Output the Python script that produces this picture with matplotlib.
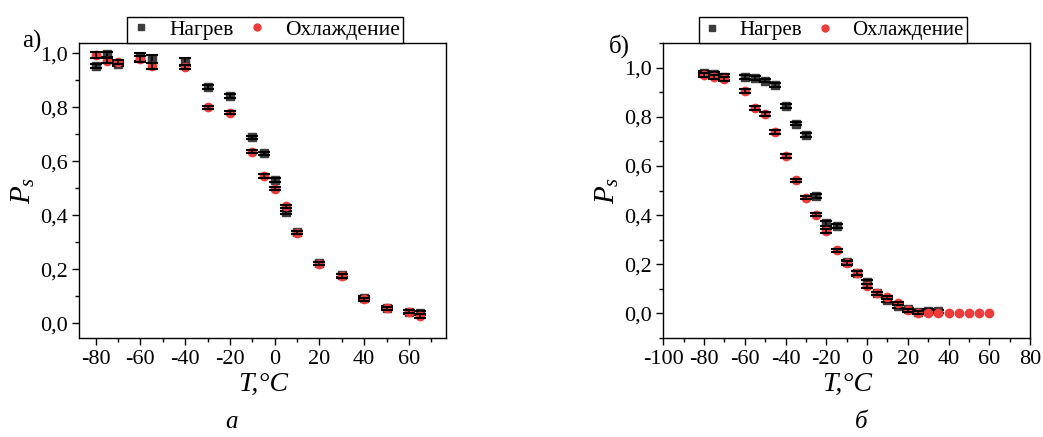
import matplotlib
matplotlib.use('Agg')
import matplotlib.pyplot as plt
from matplotlib.ticker import MultipleLocator, FuncFormatter
from matplotlib.lines import Line2D

plt.rcParams['font.family'] = ['Liberation Serif', 'DejaVu Serif']
plt.rcParams['mathtext.fontset'] = 'custom'
plt.rcParams['mathtext.it'] = 'Liberation Serif:italic'
plt.rcParams['mathtext.rm'] = 'Liberation Serif'
plt.rcParams['axes.unicode_minus'] = False

# panel a
t_heat_a = [-80, -75, -70, -60, -55, -40, -30, -20, -10, -5, 0, 5, 10, 20, 30, 40, 50, 60, 65]
p_heat_a = [0.954, 0.996, 0.960, 0.987, 0.979, 0.967, 0.875, 0.841, 0.689, 0.630, 0.531,
            0.411, 0.338, 0.223, 0.178, 0.095, 0.058, 0.042, 0.038]
e_heat_a = [0.008, 0.01, 0.008, 0.015, 0.015, 0.015, 0.008, 0.008, 0.006, 0.006, 0.006,
            0.006, 0.006, 0.006, 0.006, 0.006, 0.006, 0.006, 0.008]
t_cool_a = [-80, -75, -70, -60, -55, -40, -30, -20, -10, -5, 0, 5, 10, 20, 30, 40, 50, 60, 65]
p_cool_a = [0.994, 0.973, 0.967, 0.979, 0.953, 0.950, 0.800, 0.780, 0.636, 0.546, 0.499,
            0.434, 0.336, 0.221, 0.176, 0.090, 0.056, 0.043, 0.027]
e_cool_a = [0.01, 0.01, 0.008, 0.01, 0.01, 0.008, 0.006, 0.006, 0.006, 0.006, 0.006,
            0.006, 0.006, 0.006, 0.006, 0.006, 0.006, 0.006, 0.008]

# panel b
t_heat_b = [-80, -75, -70, -60, -55, -50, -45, -40, -35, -30, -25, -20, -15, -10, -5,
            0, 5, 10, 15, 20, 25, 30, 35]
p_heat_b = [0.977, 0.974, 0.963, 0.963, 0.956, 0.946, 0.928, 0.844, 0.772, 0.726, 0.478,
            0.366, 0.354, 0.210, 0.163, 0.128, 0.083, 0.055, 0.031, 0.017, 0.007, 0.011, 0.008]
e_heat_b = [0.008, 0.008, 0.012, 0.008, 0.008, 0.006, 0.008, 0.008, 0.006, 0.008, 0.008,
            0.012, 0.008, 0.008, 0.01, 0.01, 0.006, 0.01, 0.01, 0.006, 0.006, 0.006, 0.006]
t_cool_b = [-80, -75, -70, -60, -55, -50, -45, -40, -35, -30, -25, -20, -15, -10, -5,
            0, 5, 10, 15, 20, 25, 30, 35, 40, 45, 50, 55, 60]
p_cool_b = [0.969, 0.963, 0.952, 0.905, 0.835, 0.810, 0.740, 0.641, 0.542, 0.471, 0.402,
            0.337, 0.257, 0.207, 0.163, 0.112, 0.083, 0.066, 0.042, 0.013, 0.002, 0.0, 0.0,
            0.0, 0.0, 0.0, 0.0, 0.0]
e_cool_b = [0.008, 0.008, 0.008, 0.008, 0.008, 0.008, 0.008, 0.008, 0.006, 0.006, 0.006,
            0.008, 0.006, 0.008, 0.008, 0.008, 0.006, 0.006, 0.006, 0.006, 0.006, 0.0, 0.0,
            0.0, 0.0, 0.0, 0.0, 0.0]

HEAT_COLOR = '#3c3c3c'
COOL_COLOR = '#ee3b3b'


def comma_fmt(v, pos):
    return ('%.1f' % v).replace('.', ',')


def draw_panel(ax, th, ph, eh, tc, pc, ec, xlim, ylim, xmajor):
    ax.plot(th, ph, 's', color=HEAT_COLOR, ms=6, zorder=2)
    ax.errorbar(th, ph, yerr=eh, fmt='none', ecolor='black', elinewidth=1.2,
                capsize=4.5, capthick=1.5, zorder=3)
    ax.plot(tc, pc, 'o', color=COOL_COLOR, ms=6, zorder=4)
    errs_t = [t for t, e in zip(tc, ec) if e > 0]
    errs_p = [p for p, e in zip(pc, ec) if e > 0]
    errs_e = [e for e in ec if e > 0]
    ax.errorbar(errs_t, errs_p, yerr=errs_e, fmt='none', ecolor='black', elinewidth=1.2,
                capsize=4.5, capthick=1.5, zorder=5)
    ax.set_xlim(*xlim)
    ax.set_ylim(*ylim)
    ax.xaxis.set_major_locator(MultipleLocator(xmajor))
    ax.xaxis.set_minor_locator(MultipleLocator(xmajor / 2))
    ax.yaxis.set_major_locator(MultipleLocator(0.2))
    ax.yaxis.set_minor_locator(MultipleLocator(0.1))
    ax.yaxis.set_major_formatter(FuncFormatter(comma_fmt))
    ax.tick_params(which='major', direction='out', length=5, width=1, labelsize=16,
                   top=False, right=False)
    ax.tick_params(which='minor', direction='out', length=3, width=1, top=False, right=False)
    for s in ax.spines.values():
        s.set_linewidth(1)
    ax.set_xlabel('T,°C', fontsize=20, fontstyle='italic', labelpad=2)
    ax.set_ylabel(r'$P_s$', fontsize=21, labelpad=2)
    handles = [
        Line2D([], [], ls='none', marker='s', color=HEAT_COLOR, ms=5),
        Line2D([], [], ls='none', marker='o', color=COOL_COLOR, ms=5),
    ]
    return handles


fig = plt.figure(figsize=(10.43, 4.37), dpi=100)
ax1 = fig.add_axes([0.076, 0.2265, 0.352, 0.675])
ax2 = fig.add_axes([0.636, 0.2265, 0.3516, 0.675])

h1 = draw_panel(ax1, t_heat_a, p_heat_a, e_heat_a, t_cool_a, p_cool_a, e_cool_a,
                (-87.3, 76.7), (-0.054, 1.038), 20)
h2 = draw_panel(ax2, t_heat_b, p_heat_b, e_heat_b, t_cool_b, p_cool_b, e_cool_b,
                (-100, 80), (-0.1, 1.1), 20)

for ax, h, x0, fs in [(ax1, h1, 0.13, 15.5), (ax2, h2, 0.097, 15)]:
    leg = ax.legend(h, ['Нагрев', 'Охлаждение'], loc='lower left', bbox_to_anchor=(x0, 1.0),
                    borderaxespad=0, ncol=2, fontsize=fs, frameon=True, fancybox=False,
                    framealpha=1, edgecolor='black', borderpad=0.15, handlelength=1.0,
                    handletextpad=0.8, columnspacing=0.6)
    leg.get_frame().set_linewidth(1)

fig.text(0.021, 0.89, 'а)', fontsize=18)
fig.text(0.584, 0.88, 'б)', fontsize=18)
fig.text(0.222, 0.02, 'а', fontsize=18, fontstyle='italic', ha='center')
fig.text(0.826, 0.02, 'б', fontsize=18, fontstyle='italic', ha='center')

fig.savefig('out.png', dpi=100)
plt.close(fig)
